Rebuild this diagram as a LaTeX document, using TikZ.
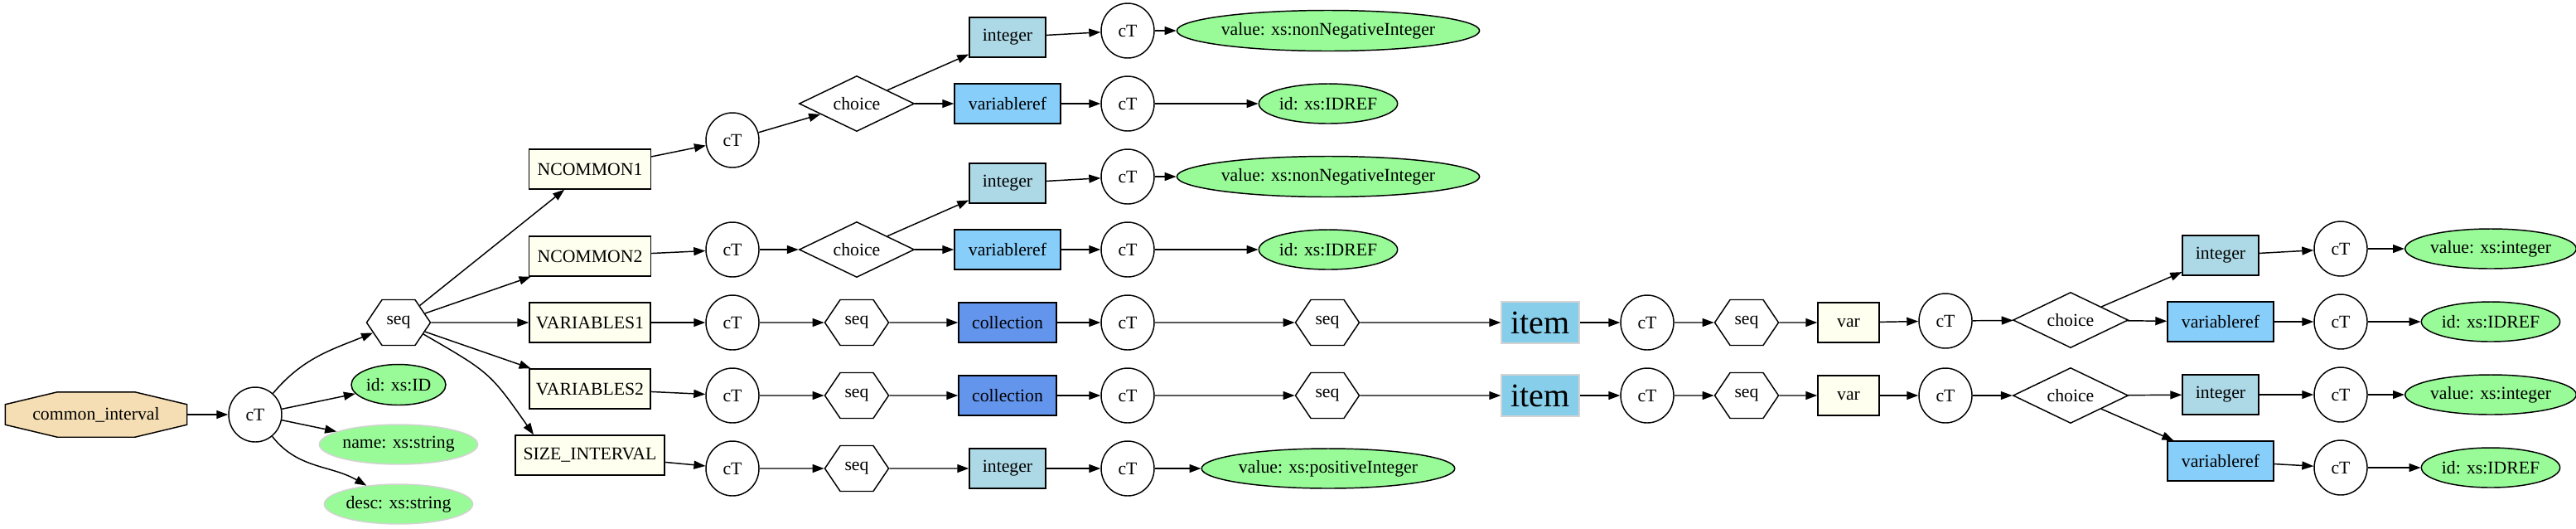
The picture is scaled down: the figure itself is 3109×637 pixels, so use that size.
\documentclass[tikz,border=0pt]{standalone}
\usepackage{fontspec}
\setmainfont{Liberation Serif}
\usetikzlibrary{shapes.geometric,shapes.symbols,arrows.meta,backgrounds,calc}
\definecolor{wheat}{HTML}{F5DEB3}
\definecolor{ivory}{HTML}{FFFFF0}
\definecolor{lblue}{HTML}{ADD8E6}
\definecolor{lsky}{HTML}{87CEFA}
\definecolor{cfblue}{HTML}{6495ED}
\definecolor{skyb}{HTML}{87CEEB}
\definecolor{pgreen}{HTML}{98FB98}
\definecolor{lgray}{HTML}{D3D3D3}
\begin{document}
\begin{tikzpicture}[x=0.75pt,y=0.75pt,
  every node/.style={font=\fontsize{16.3}{19}\selectfont, inner sep=0pt, line width=1.1pt},
  ctn/.style={ellipse, draw, minimum width=64*.75pt, minimum height=66*.75pt},
  seqn/.style={signal, signal to=west and east, signal pointer angle=112, draw, minimum width=77*.75pt, minimum height=55*.75pt},
  chn/.style={diamond, aspect=2, draw, minimum width=139*.75pt, minimum height=67*.75pt},
  boxn/.style={rectangle, draw, fill=ivory, minimum height=48*.75pt},
  intn/.style={rectangle, draw, fill=lblue, minimum width=92*.75pt, minimum height=48*.75pt},
  vrn/.style={rectangle, draw, fill=lsky, minimum width=128*.75pt, minimum height=48*.75pt},
  colln/.style={rectangle, draw, fill=cfblue, minimum width=118*.75pt, minimum height=48*.75pt},
  itemn/.style={rectangle, draw=lgray, fill=skyb, minimum width=94*.75pt, minimum height=50*.75pt, font=\fontsize{30}{34}\selectfont},
  varn/.style={rectangle, draw, fill=ivory, minimum width=74*.75pt, minimum height=48*.75pt},
  attr/.style={ellipse, draw, fill=pgreen, minimum height=48*.75pt},
  arr/.style={-{Triangle[length=10.5pt,width=7.5pt]}, line width=1.1pt}
]
\useasboundingbox (0,0) rectangle (3109,-637);
% left part
\node[rectangle, minimum width=218*.75pt, minimum height=53*.75pt] (ci) at (116,-500) {common\_interval};
\begin{scope}[on background layer]
\draw[fill=wheat,line width=1.1pt] ($(ci.north west)+(63,0)$) -- ($(ci.north east)+(-63,0)$) -- ($(ci.north east)+(0,-15)$) -- ($(ci.south east)+(0,15)$) -- ($(ci.south east)+(-63,0)$) -- ($(ci.south west)+(63,0)$) -- ($(ci.south west)+(0,15)$) -- ($(ci.north west)+(0,-15)$) -- cycle;
\end{scope}
\node[ctn] (ct0) at (308,-500) {cT};
\node[seqn] (seq0) at (481,-389) {seq};
\node[attr, minimum width=114*.75pt, minimum height=49*.75pt] (id0) at (481,-464) {id: xs:ID};
\node[attr, draw=lgray, minimum width=186*.75pt] (name) at (481,-536) {name: xs:string};
\node[attr, draw=lgray, minimum width=174*.75pt] (desc) at (481,-608) {desc: xs:string};
\node[boxn, minimum width=147*.75pt] (nc1) at (712,-204) {NCOMMON1};
\node[boxn, minimum width=147*.75pt] (nc2) at (712,-309) {NCOMMON2};
\node[boxn, minimum width=146*.75pt] (v1) at (712,-389) {VARIABLES1};
\node[boxn, minimum width=146*.75pt] (v2) at (712,-469) {VARIABLES2};
\node[boxn, minimum width=180*.75pt] (si) at (712,-549) {SIZE\_INTERVAL};
% NCOMMON1 branch
\node[ctn] (ct1) at (884,-169) {cT};
\node[chn] (ch1) at (1034,-125) {choice};
\node[intn] (int1) at (1216,-45) {integer};
\node[vrn] (vr1) at (1216,-125) {variableref};
\node[ctn] (ct1a) at (1361,-37) {cT};
\node[ctn] (ct1b) at (1361,-125) {cT};
\node[attr, minimum width=320*.75pt, minimum height=49*.75pt] (val1) at (1603,-37) {value: xs:nonNegativeInteger};
\node[attr, minimum width=152*.75pt] (idr1) at (1603,-125) {id: xs:IDREF};
% NCOMMON2 branch
\node[ctn] (ct2) at (884,-301) {cT};
\node[chn] (ch2) at (1034,-301) {choice};
\node[intn] (int2) at (1216,-221) {integer};
\node[vrn] (vr2) at (1216,-301) {variableref};
\node[ctn] (ct2a) at (1361,-213) {cT};
\node[ctn] (ct2b) at (1361,-301) {cT};
\node[attr, minimum width=320*.75pt, minimum height=49*.75pt] (val2) at (1603,-213) {value: xs:nonNegativeInteger};
\node[attr, minimum width=152*.75pt] (idr2) at (1603,-301) {id: xs:IDREF};
% VARIABLES1 branch
\node[ctn] (ct3) at (884,-389) {cT};
\node[seqn] (sq3) at (1034,-389) {seq};
\node[colln] (co3) at (1216,-389) {collection};
\node[ctn] (ct3a) at (1361,-389) {cT};
\node[seqn] (sq3a) at (1602,-389) {seq};
\node[itemn] (it3) at (1859,-389) {item};
\node[ctn] (ct3b) at (1988,-389) {cT};
\node[seqn] (sq3b) at (2108,-389) {seq};
\node[varn] (var3) at (2231,-389) {var};
\node[ctn] (ct3c) at (2348,-387) {cT};
\node[chn] (ch3) at (2499,-386) {choice};
\node[intn] (int3) at (2680,-308) {integer};
\node[vrn] (vr3) at (2680,-388) {variableref};
\node[ctn] (ct3d) at (2825,-300) {cT};
\node[ctn] (ct3e) at (2825,-388) {cT};
\node[attr, minimum width=196*.75pt] (val3) at (3006,-300) {value: xs:integer};
\node[attr, minimum width=152*.75pt] (idr3) at (3006,-388) {id: xs:IDREF};
% VARIABLES2 branch
\node[ctn] (ct4) at (884,-477) {cT};
\node[seqn] (sq4) at (1034,-477) {seq};
\node[colln] (co4) at (1216,-477) {collection};
\node[ctn] (ct4a) at (1361,-477) {cT};
\node[seqn] (sq4a) at (1602,-477) {seq};
\node[itemn] (it4) at (1859,-477) {item};
\node[ctn] (ct4b) at (1988,-477) {cT};
\node[seqn] (sq4b) at (2108,-477) {seq};
\node[varn] (var4) at (2231,-477) {var};
\node[ctn] (ct4c) at (2348,-477) {cT};
\node[chn] (ch4) at (2499,-477) {choice};
\node[intn] (int4) at (2680,-476) {integer};
\node[vrn] (vr4) at (2680,-556) {variableref};
\node[ctn] (ct4d) at (2825,-476) {cT};
\node[ctn] (ct4e) at (2825,-564) {cT};
\node[attr, minimum width=196*.75pt] (val4) at (3006,-476) {value: xs:integer};
\node[attr, minimum width=152*.75pt] (idr4) at (3006,-564) {id: xs:IDREF};
% SIZE_INTERVAL branch
\node[ctn] (ct5) at (884,-565) {cT};
\node[seqn] (sq5) at (1034,-565) {seq};
\node[intn] (int5) at (1216,-565) {integer};
\node[ctn] (ct5a) at (1361,-565) {cT};
\node[attr, minimum width=272*.75pt] (val5) at (1603,-565) {value: xs:positiveInteger};
% edges
\draw[arr] (ci) -- (ct0);
\draw[arr] (ct0) to[out=50,in=202] (seq0);
\draw[arr] (ct0) -- (id0);
\draw[arr] (ct0) -- (name);
\draw[arr] (ct0) to[out=-52,in=150] (desc);
\draw[arr] (seq0) -- (nc1);
\draw[arr] (seq0) -- (nc2);
\draw[arr] (seq0) -- (v1);
\draw[arr] (seq0) -- (v2);
\draw[arr] (seq0.-25) to[out=-30,in=125,looseness=1.3] (si.160);
\draw[arr] (nc1) -- (ct1);
\draw[arr] (ct1) -- (ch1);
\draw[arr] (ch1) -- (int1);
\draw[arr] (ch1) -- (vr1);
\draw[arr] (int1) -- (ct1a);
\draw[arr] (vr1) -- (ct1b);
\draw[arr] (ct1a) -- (val1);
\draw[arr] (ct1b) -- (idr1);
\draw[arr] (nc2) -- (ct2);
\draw[arr] (ct2) -- (ch2);
\draw[arr] (ch2) -- (int2);
\draw[arr] (ch2) -- (vr2);
\draw[arr] (int2) -- (ct2a);
\draw[arr] (vr2) -- (ct2b);
\draw[arr] (ct2a) -- (val2);
\draw[arr] (ct2b) -- (idr2);
\draw[arr] (v1) -- (ct3);
\draw[arr] (ct3) -- (sq3);
\draw[arr] (sq3) -- (co3);
\draw[arr] (co3) -- (ct3a);
\draw[arr] (ct3a) -- (sq3a);
\draw[arr] (sq3a) -- (it3);
\draw[arr] (it3) -- (ct3b);
\draw[arr] (ct3b) -- (sq3b);
\draw[arr] (sq3b) -- (var3);
\draw[arr] (var3) -- (ct3c);
\draw[arr] (ct3c) -- (ch3);
\draw[arr] (ch3) -- (int3);
\draw[arr] (ch3) -- (vr3);
\draw[arr] (int3) -- (ct3d);
\draw[arr] (vr3) -- (ct3e);
\draw[arr] (ct3d) -- (val3);
\draw[arr] (ct3e) -- (idr3);
\draw[arr] (v2) -- (ct4);
\draw[arr] (ct4) -- (sq4);
\draw[arr] (sq4) -- (co4);
\draw[arr] (co4) -- (ct4a);
\draw[arr] (ct4a) -- (sq4a);
\draw[arr] (sq4a) -- (it4);
\draw[arr] (it4) -- (ct4b);
\draw[arr] (ct4b) -- (sq4b);
\draw[arr] (sq4b) -- (var4);
\draw[arr] (var4) -- (ct4c);
\draw[arr] (ct4c) -- (ch4);
\draw[arr] (ch4) -- (int4);
\draw[arr] (ch4) -- (vr4);
\draw[arr] (int4) -- (ct4d);
\draw[arr] (vr4) -- (ct4e);
\draw[arr] (ct4d) -- (val4);
\draw[arr] (ct4e) -- (idr4);
\draw[arr] (si) -- (ct5);
\draw[arr] (ct5) -- (sq5);
\draw[arr] (sq5) -- (int5);
\draw[arr] (int5) -- (ct5a);
\draw[arr] (ct5a) -- (val5);
\end{tikzpicture}
\end{document}
